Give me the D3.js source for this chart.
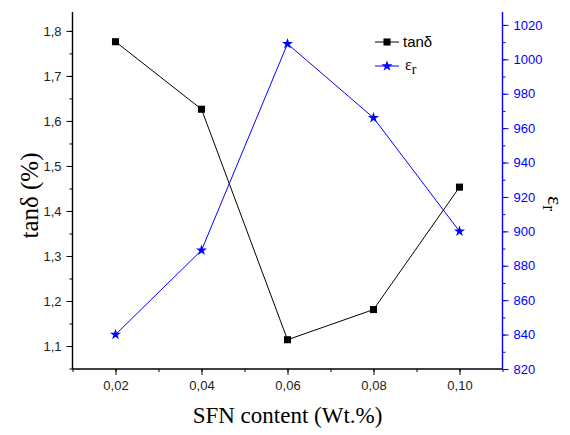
<!DOCTYPE html>
<html>
<head>
<meta charset="utf-8">
<script src="https://cdn.jsdelivr.net/npm/d3@7"></script>
<style>
  body { margin: 0; background: #fff; }
  .tick text { font-family: "Liberation Sans", Arial, sans-serif; font-size: 13px; }
</style>
</head>
<body>
<div id="chart"></div>
<script>
// data
const sfnContent = [0.02, 0.04, 0.06, 0.08, 0.10];
const tanDelta = [1.776, 1.626, 1.114, 1.181, 1.453];
const epsilonR = [840, 889, 1009, 966, 900];

const xTicks = [0.02, 0.04, 0.06, 0.08, 0.10];
const leftTicks = [1.1, 1.2, 1.3, 1.4, 1.5, 1.6, 1.7, 1.8];
const rightTicks = [820, 840, 860, 880, 900, 920, 940, 960, 980, 1000, 1020];

const W = 570, H = 435;
const PLOT = {left: 72.5, right: 502.5, top: 12, bottom: 369};
const BLUE = "#0000ff";

const svg = d3.select("#chart").append("svg")
  .attr("width", W).attr("height", H);

const comma = d3.formatLocale({decimal: ",", thousands: ".", grouping: [3], currency: ["", ""]});

const x = d3.scaleLinear().domain([0.01, 0.11]).range([PLOT.left, PLOT.right]);
const yL = d3.scaleLinear().domain([1.049, 1.842]).range([PLOT.bottom, PLOT.top]);
const yR = d3.scaleLinear().domain([820, 1027.5]).range([PLOT.bottom, PLOT.top]);

// minor ticks first
svg.append("g")
  .attr("transform", `translate(0,${PLOT.bottom})`)
  .call(d3.axisBottom(x).tickValues(d3.range(0.01, 0.115, 0.01)).tickSize(3).tickFormat(""))
  .call(g => g.select(".domain").remove());
svg.append("g")
  .attr("transform", `translate(${PLOT.left},0)`)
  .call(d3.axisLeft(yL).tickValues(d3.range(1.05, 1.84, 0.05)).tickSize(3).tickFormat(""))
  .call(g => g.select(".domain").remove());
svg.append("g")
  .attr("transform", `translate(${PLOT.right},0)`)
  .call(d3.axisRight(yR).tickValues(d3.range(830, 1025, 10)).tickSize(3).tickFormat(""))
  .call(g => g.select(".domain").remove())
  .call(g => g.selectAll("line").attr("stroke", BLUE));

// major axes
svg.append("g")
  .attr("transform", `translate(0,${PLOT.bottom})`)
  .call(d3.axisBottom(x).tickValues(xTicks).tickSize(6).tickSizeOuter(0).tickPadding(6)
    .tickFormat(comma.format(".2f")))
  .call(g => g.select(".domain").attr("d", `M${PLOT.left},0H${PLOT.right}`).attr("stroke-width", 1.4))
  .call(g => g.selectAll("text").attr("fill", "#222"));

svg.append("g")
  .attr("transform", `translate(${PLOT.left},0)`)
  .call(d3.axisLeft(yL).tickValues(leftTicks).tickSize(6).tickSizeOuter(0).tickPadding(5)
    .tickFormat(comma.format(".1f")))
  .call(g => g.select(".domain").attr("d", `M0,${PLOT.top}V${PLOT.bottom}`).attr("stroke-width", 1.4))
  .call(g => g.selectAll("text").attr("fill", "#222"));

svg.append("g")
  .attr("transform", `translate(${PLOT.right},0)`)
  .call(d3.axisRight(yR).tickValues(rightTicks).tickSize(6).tickSizeOuter(0).tickPadding(5)
    .tickFormat(d3.format("d")))
  .call(g => g.select(".domain").attr("d", `M0,${PLOT.top}V${PLOT.bottom}`).attr("stroke", BLUE).attr("stroke-width", 1.4))
  .call(g => g.selectAll("line").attr("stroke", BLUE))
  .call(g => g.selectAll("text").attr("fill", BLUE));

// lines
const tanLine = d3.line().x((d, i) => x(sfnContent[i])).y(d => yL(d));
const epsLine = d3.line().x((d, i) => x(sfnContent[i])).y(d => yR(d));

svg.append("path").datum(tanDelta)
  .attr("d", tanLine).attr("fill", "none").attr("stroke", "#000").attr("stroke-width", 1);
svg.append("path").datum(epsilonR)
  .attr("d", epsLine).attr("fill", "none").attr("stroke", BLUE).attr("stroke-width", 1);

const square = d3.symbol().type(d3.symbolSquare).size(50);
const star = d3.symbol().type(d3.symbolStar).size(38);

svg.selectAll(".sq").data(tanDelta).enter().append("path")
  .attr("class", "sq")
  .attr("d", square)
  .attr("transform", (d, i) => `translate(${x(sfnContent[i])},${yL(d)})`)
  .attr("fill", "#000");

svg.selectAll(".st").data(epsilonR).enter().append("path")
  .attr("class", "st")
  .attr("d", star)
  .attr("transform", (d, i) => `translate(${x(sfnContent[i])},${yR(d)})`)
  .attr("fill", BLUE);

// legend
const lg = svg.append("g").attr("transform", "translate(375,42)");
lg.append("line").attr("x1", 0).attr("x2", 24).attr("y1", 0).attr("y2", 0).attr("stroke", "#000");
lg.append("path").attr("d", square).attr("transform", "translate(12,0)").attr("fill", "#000");
lg.append("text").attr("x", 28).attr("y", 5)
  .style("font-family", "'Liberation Sans', Arial, sans-serif").style("font-size", "15px")
  .text("tanδ");
lg.append("line").attr("x1", 0).attr("x2", 24).attr("y1", 24).attr("y2", 24).attr("stroke", BLUE);
lg.append("path").attr("d", star).attr("transform", "translate(12,24)").attr("fill", BLUE);
const et = lg.append("text").attr("x", 30).attr("y", 28)
  .style("font-family", "'Liberation Serif', 'Times New Roman', serif").style("font-size", "16px");
et.append("tspan").text("ε");
et.append("tspan").attr("dy", 4).style("font-size", "14px").text("r");

// axis titles
svg.append("text")
  .attr("transform", `translate(38,${(PLOT.top + PLOT.bottom) / 2 + 5}) rotate(-90)`)
  .attr("text-anchor", "middle")
  .style("font-family", "'Liberation Serif', 'Times New Roman', serif").style("font-size", "25px")
  .text("tanδ (%)");

svg.append("text")
  .attr("x", (PLOT.left + PLOT.right) / 2).attr("y", 423)
  .attr("text-anchor", "middle")
  .style("font-family", "'Liberation Serif', 'Times New Roman', serif").style("font-size", "23px")
  .text("SFN content (Wt.%)");

const rt = svg.append("text")
  .attr("transform", `translate(548,${(PLOT.top + PLOT.bottom) / 2 + 13}) rotate(90)`)
  .attr("text-anchor", "middle")
  .style("font-family", "'Liberation Serif', 'Times New Roman', serif").style("font-size", "22px");
rt.append("tspan").text("ε");
rt.append("tspan").attr("dy", 5).style("font-size", "18px").text("r");
</script>
</body>
</html>
